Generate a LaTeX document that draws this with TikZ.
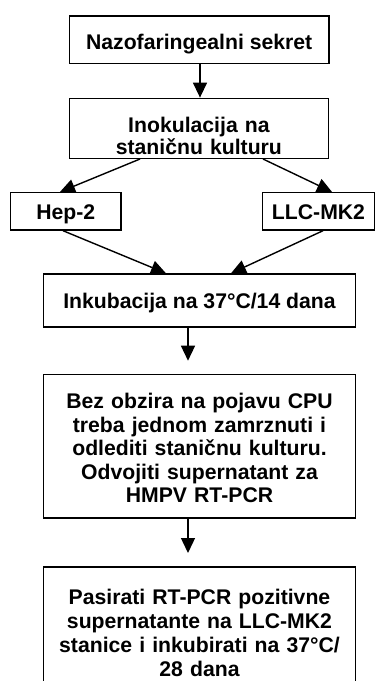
\documentclass[tikz,border=0pt]{standalone}
\usepackage{fontspec}
\setmainfont{Liberation Sans}
\usetikzlibrary{arrows.meta}
\newcommand\myboxfont[1]{\fontsize{21.2}{#1}\selectfont\bfseries}
\begin{document}
\begin{tikzpicture}[x=1pt,y=-1pt,
  box/.style={draw=black,line width=1.4pt,inner sep=0pt,align=center,text depth=0pt},
  arr/.style={line width=1.4pt,-{Triangle[width=14pt,length=15pt]}}]
\useasboundingbox (0,0) rectangle (375,681);
\fill[white] (0,0) rectangle (375,681);
\node[box,font=\myboxfont{23},minimum width=259.7pt,minimum height=47.3pt,text height=19.2pt] (b1) at (199.2,39.7) {Nazofaringealni sekret};
\node[box,font=\myboxfont{22},text width=259.2pt,minimum height=60pt,text height=8pt] (b2) at (198.9,128.3) {Inokulacija na\\stani\v{c}nu kulturu};
\node[box,font=\myboxfont{23},minimum width=110.5pt,minimum height=37.4pt,text height=16pt] (h) at (65.75,211.3) {Hep-2};
\node[box,font=\myboxfont{23},minimum width=112pt,minimum height=37.4pt,text height=16pt] (l) at (318.5,211.3) {LLC-MK2};
\node[box,font=\myboxfont{23},minimum width=312.4pt,minimum height=53pt,text height=16pt] (b3) at (199.5,300.5) {Inkubacija na 37°C/14 dana};
\node[box,font=\myboxfont{23.5},text width=312.4pt,minimum height=143.5pt,text height=0pt,text depth=75.2pt] (b4) at (199.5,446.3) {Bez obzira na pojavu CPU\\treba jednom zamrznuti i\\odlediti stani\v{c}nu kulturu.\\Odvojiti supernatant za\\HMPV RT-PCR};
\node[box,font=\myboxfont{24.2},text width=312.4pt,minimum height=125pt,text height=0pt,text depth=50.8pt] (b5) at (199.5,629.5) {Pasirati RT-PCR pozitivne\\supernatante na LLC-MK2\\stanice i inkubirati na 37°C/\\28 dana};
\coordinate (xa) at (200,0);
\coordinate (xb) at (188,0);
\coordinate (p1) at (140,0);
\coordinate (p2) at (60,0);
\coordinate (p3) at (263,0);
\coordinate (p4) at (332,0);
\coordinate (p5) at (63,0);
\coordinate (p6) at (166,0);
\coordinate (p7) at (323,0);
\coordinate (p8) at (231,0);
\coordinate (t1) at (188,360.7);
\coordinate (t2) at (188,553);
\draw[arr] (b1.south -| xa) -- (b2.north -| xa);
\draw[arr] (b2.south -| p1) -- (h.north -| p2);
\draw[arr] (b2.south -| p3) -- (l.north -| p4);
\draw[arr] (h.south -| p5) -- (b3.north -| p6);
\draw[arr] (l.south -| p7) -- (b3.north -| p8);
\draw[arr] (b3.south -| xb) -- (t1);
\draw[arr] (b4.south -| xb) -- (t2);
\end{tikzpicture}
\end{document}
